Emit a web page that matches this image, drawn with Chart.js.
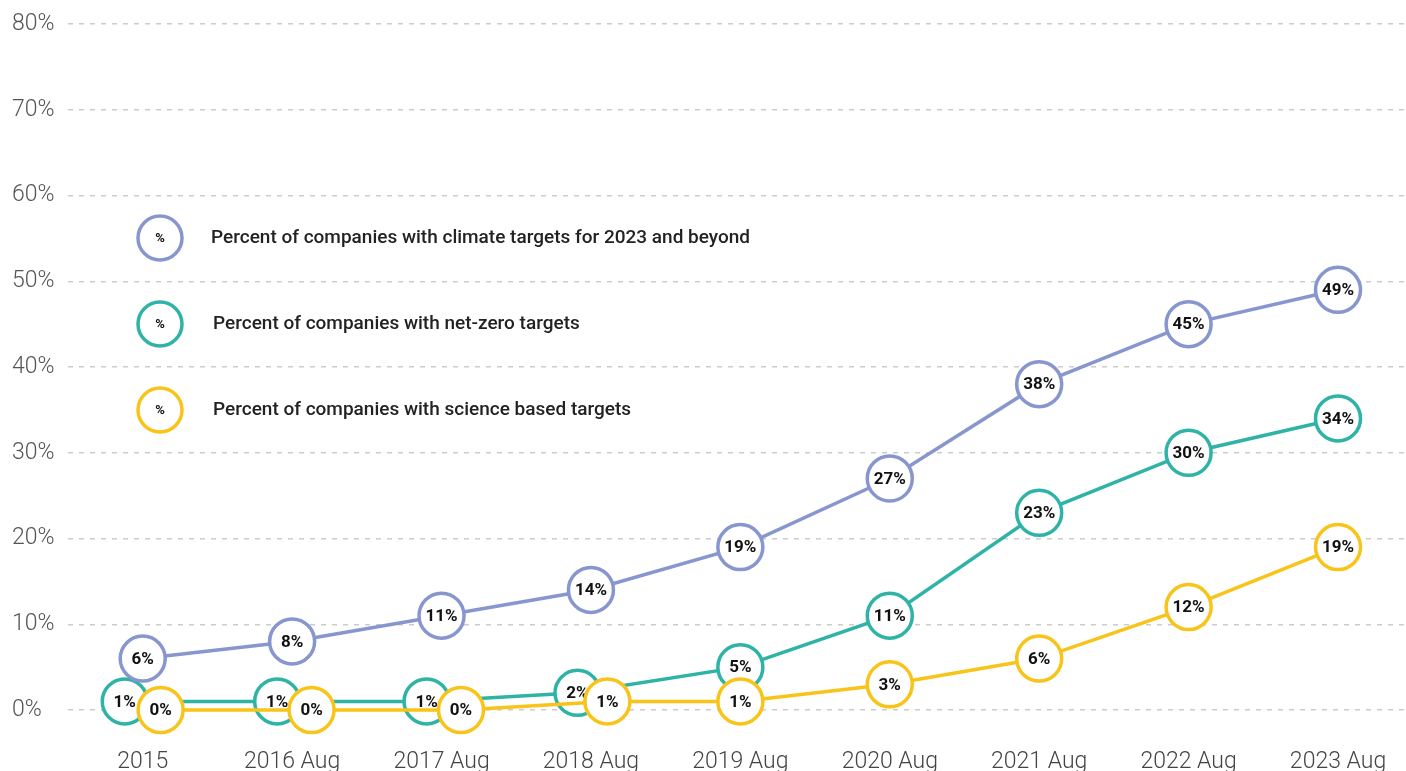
<!DOCTYPE html>
<html>
<head>
<meta charset="utf-8">
<script src="https://cdn.jsdelivr.net/npm/chart.js@4/dist/chart.umd.min.js"></script>
<style>
  html, body { margin: 0; padding: 0; background: #fff; overflow: hidden; }
</style>
</head>
<body>
<canvas id="grafikTarget" width="1406" height="790"></canvas>
<script>
const years = ['2015', '2016 Aug', '2017 Aug', '2018 Aug', '2019 Aug', '2020 Aug', '2021 Aug', '2022 Aug', '2023 Aug'];

const climateTargets = [6, 8, 11, 14, 19, 27, 38, 45, 49];
const netZeroTargets = [1, 1, 1, 2, 5, 11, 23, 30, 34];
const scienceTargets = [0, 0, 0, 1, 1, 3, 6, 12, 19];

const seriesNames = [
    'Percent of companies with climate targets for 2023 and beyond',
    'Percent of companies with net-zero targets',
    'Percent of companies with science based targets'
];

// side shift so overlapping circles don't hide each other
const shiftNetZero = [-0.12, -0.1, -0.1, -0.09, 0, 0, 0, 0, 0];
const shiftScience = [0.12, 0.13, 0.13, 0.11, 0, 0, 0, 0, 0];

const colBlue = '#8796CE';
const colGreen = '#2EB3A6';
const colYellow = '#F9C41A';

function toPoints(values, shift) {
    return values.map((v, i) => ({ x: i + (shift ? shift[i] : 0), y: v }));
}

function makeSeries(label, values, shift, color, order) {
    return {
        label: label,
        data: toPoints(values, shift),
        borderColor: color,
        borderWidth: 3.5,
        pointRadius: 22.5,
        pointHoverRadius: 22.5,
        pointBorderWidth: 3.5,
        pointHoverBorderWidth: 3.5,
        pointBackgroundColor: '#fff',
        pointBorderColor: color,
        tension: 0,
        clip: false,
        order: order
    };
}

// number inside each circle, drawn right after its own dataset
const pointLabels = {
    id: 'pointLabels',
    afterDatasetDraw(chart, args) {
        const ctx = chart.ctx;
        const ds = chart.data.datasets[args.index];
        ctx.save();
        ctx.font = 'bold 17px Roboto';
        ctx.fillStyle = '#111';
        ctx.textAlign = 'center';
        ctx.textBaseline = 'middle';
        args.meta.data.forEach((pt, i) => {
            ctx.fillText(ds.data[i].y + '%', pt.x, pt.y + 1);
        });
        ctx.restore();
    }
};

// legend with round markers at the top left of the plot
const circleLegend = {
    id: 'circleLegend',
    afterDraw(chart) {
        const ctx = chart.ctx;
        ctx.save();
        chart.data.datasets.forEach((ds, i) => {
            const y = 238 + i * 86;
            ctx.beginPath();
            ctx.arc(160, y, 22, 0, Math.PI * 2);
            ctx.fillStyle = '#fff';
            ctx.fill();
            ctx.lineWidth = 3.5;
            ctx.strokeStyle = ds.borderColor;
            ctx.stroke();

            ctx.fillStyle = '#111';
            ctx.font = 'bold 13px Roboto';
            ctx.textAlign = 'center';
            ctx.textBaseline = 'middle';
            ctx.fillText('%', 160, y + 1);

            ctx.fillStyle = '#222';
            ctx.font = '500 19px Roboto';
            ctx.textAlign = 'left';
            ctx.fillText(ds.label, i === 0 ? 211 : 213, y);
        });
        ctx.restore();
    }
};

const ctx = document.getElementById('grafikTarget').getContext('2d');

const grafik = new Chart(ctx, {
    type: 'line',
    data: {
        datasets: [
            makeSeries(seriesNames[0], climateTargets, null, colBlue, 1),
            makeSeries(seriesNames[1], netZeroTargets, shiftNetZero, colGreen, 2),
            makeSeries(seriesNames[2], scienceTargets, shiftScience, colYellow, 0)
        ]
    },
    options: {
        responsive: false,
        animation: false,
        layout: { autoPadding: false, padding: { left: 12, top: 24, right: 0, bottom: 0 } },
        plugins: {
            legend: { display: false },
            tooltip: { enabled: false }
        },
        scales: {
            x: {
                type: 'linear',
                min: -0.5,
                max: 8.455,
                afterBuildTicks: (scale) => {
                    scale.ticks = years.map((_, i) => ({ value: i }));
                },
                afterFit: (scale) => {
                    scale.height = 80;
                    scale.paddingLeft = 0;
                    scale.paddingRight = 0;
                },
                grid: { display: false, drawTicks: false },
                border: { display: false },
                ticks: {
                    autoSkip: false,
                    maxRotation: 0,
                    padding: 38,
                    color: '#444',
                    font: { family: 'Roboto', size: 23, weight: '300' },
                    callback: (v) => years[v]
                }
            },
            y: {
                min: 0,
                max: 80,
                afterFit: (scale) => {
                    scale.width = 56;
                    scale.paddingTop = 0;
                    scale.paddingBottom = 0;
                },
                grid: { color: '#cccccc', lineWidth: 1.5, drawTicks: false },
                border: { display: false, dash: [5, 6] },
                ticks: {
                    stepSize: 10,
                    crossAlign: 'far',
                    color: '#555',
                    font: { family: 'Roboto', size: 23, weight: '300' },
                    callback: (v) => v + '%'
                }
            }
        }
    },
    plugins: [pointLabels, circleLegend]
});
</script>
</body>
</html>
